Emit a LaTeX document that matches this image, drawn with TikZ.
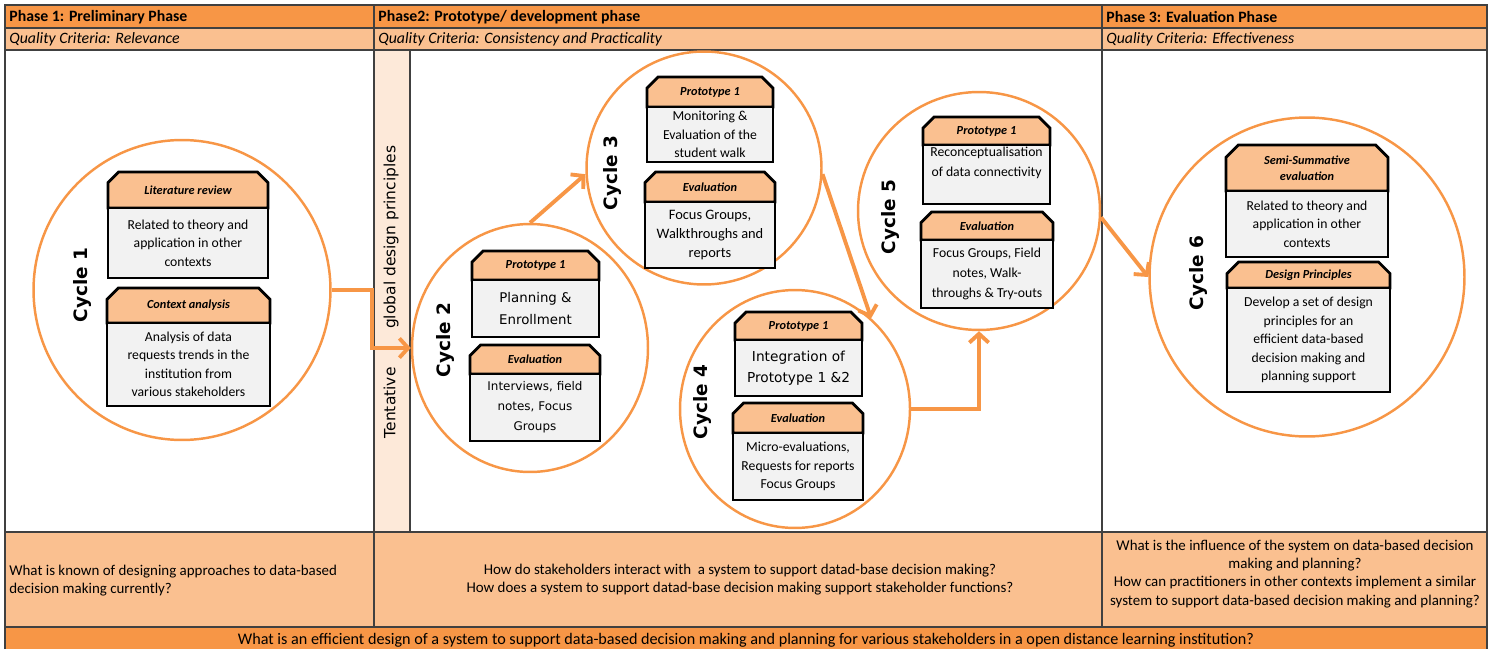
\documentclass[tikz,border=0pt]{standalone}
\usepackage{fontspec}
\setmainfont{Carlito}
\newfontfamily\tahoma{DejaVu Sans}
\usepackage{tikz}
\usetikzlibrary{positioning,arrows.meta,shapes.misc,shapes.geometric}
\definecolor{phaseorange}{RGB}{247,150,70}
\definecolor{lightorange}{RGB}{250,192,144}
\definecolor{stripfill}{RGB}{253,233,217}
\definecolor{gridline}{RGB}{64,64,64}
\definecolor{bodygray}{RGB}{242,242,242}

\tikzset{
  cyc/.style={ellipse, draw=phaseorange, line width=1.4pt, inner sep=0pt},
  cyclabel/.style={rotate=90, font=\tahoma\bfseries\fontsize{10.5}{12}\selectfont},
  boxhead/.style={chamfered rectangle, chamfered rectangle corners={north west,north east},
    chamfered rectangle xsep=3.5pt, chamfered rectangle ysep=3.5pt, draw=black, line width=1.6pt,
    fill=lightorange, inner sep=0pt, outer sep=0pt, anchor=north, align=center,
    font=\bfseries\itshape\fontsize{7}{9}\selectfont},
  boxbody/.style={draw=black, line width=1.6pt, fill=bodygray, inner sep=0pt, outer sep=0pt,
    align=center, font=\fontsize{7.8}{10.5}\selectfont},
  flow/.style={draw=phaseorange, line width=2.2pt, -{Straight Barb[length=5pt,width=11pt]}},
  hdrtext/.style={anchor=west, inner sep=0pt, font=\bfseries\fontsize{9}{10}\selectfont},
  crittext/.style={anchor=west, inner sep=0pt, font=\itshape\fontsize{9}{10}\selectfont},
  qtext/.style={inner sep=0pt, font=\fontsize{8.5}{10.3}\selectfont}
}

\begin{document}
\begin{tikzpicture}[x=0.02cm, y=-0.02cm]
\useasboundingbox (0,0) rectangle (1494,649);

% table background and grid
\fill[phaseorange] (5,5) rectangle (1487,28);
\fill[lightorange] (5,28) rectangle (1487,50);
\fill[stripfill] (374,50) rectangle (410,532);
\fill[lightorange] (5,532) rectangle (1487,627);
\fill[phaseorange] (5,627) rectangle (1487,649);
\draw[gridline, line width=0.9pt] (5,649) -- (5,5) -- (1487,5) -- (1487,649);
\foreach \yy in {28,50,532,627} \draw[gridline, line width=0.9pt] (5,\yy) -- (1487,\yy);
\foreach \xx in {374,1102} \draw[gridline, line width=0.9pt] (\xx,5) -- (\xx,627);
\draw[gridline, line width=0.9pt] (410,50) -- (410,532);

% phase headers
\node[hdrtext] (ph1) at (9,17) {Phase 1: Preliminary Phase};
\node[hdrtext] (ph2) at (378,17) {Phase2: Prototype/ development phase};
\node[hdrtext] (ph3) at (1106,17) {Phase 3: Evaluation Phase};
\node[crittext] (qc1) at (9,39.5) {Quality Criteria: Relevance};
\node[crittext] (qc2) at (378,39.5) {Quality Criteria: Consistency and Practicality};
\node[crittext] (qc3) at (1106,39.5) {Quality Criteria: Effectiveness};

\node[rotate=90, font=\tahoma\fontsize{8.8}{10}\selectfont] (strip) at (391,292)
  {Tentative\hspace{22pt}global design principles};

% research questions
\node[qtext, anchor=west, align=left] (rq1) at (9,581)
  {What is known of designing approaches to data-based\\decision making currently?};
\node[qtext, align=center] (rq2) at (740,580)
  {How do stakeholders interact with\ \ a system to support datad-base decision making?\\How does a system to support datad-base decision making support stakeholder functions?};
\node[qtext, align=center] (rq3) at (1295,574)
  {What is the influence of the system on data-based decision\\making and planning?\\How can practitioners in other contexts implement a similar\\system to support data-based decision making and planning?};
\node[qtext, font=\fontsize{9.2}{11}\selectfont] (mainq) at (746,640)
  {What is an efficient design of a system to support data-based decision making and planning for various stakeholders in a open distance learning institution?};

% cycles
\node[cyc, minimum width=5.94cm, minimum height=6cm] (c1) at (182,290) {};
\node[cyc, minimum width=4.72cm, minimum height=4.96cm] (c2) at (530,348) {};
\node[cyc, minimum width=4.7cm, minimum height=4.66cm] (c3) at (704,168) {};
\node[cyc, minimum width=4.6cm, minimum height=4.76cm] (c4) at (795,409) {};
\node[cyc, minimum width=4.84cm, minimum height=4.76cm] (c5) at (979,211) {};
\node[cyc, minimum width=6.3cm, minimum height=6.38cm] (c6) at (1307,277) {};

\node[cyclabel] (l1) at (82,285) {Cycle 1};
\node[cyclabel] (l2) at (445,340) {Cycle 2};
\node[cyclabel] (l3) at (612,173) {Cycle 3};
\node[cyclabel] (l4) at (702,402) {Cycle 4};
\node[cyclabel] (l5) at (890,217) {Cycle 5};
\node[cyclabel] (l6) at (1198,273) {Cycle 6};

% flow between cycles
\draw[flow] (c1.east) -- ++(40,0) |- (c2.west);
\draw[flow] (c2.north) -- (c3.183);
\draw[flow] (c3.357) -- (c4.50);
\draw[flow] (c4.east) -| (c5.south);
\draw[flow] (c5.357) -- (c6.west);

% cycle 1
\node[boxhead, minimum width=3.2cm, minimum height=0.72cm] (h1a) at (188,172) {Literature review};
\node[boxbody, below=0pt of h1a, minimum width=3.2cm, minimum height=1.4cm] (b1a)
  {Related to theory and\\application in other\\contexts};
\node[boxhead, minimum width=3.26cm, minimum height=0.7cm] (h1b) at (188.5,288) {Context analysis};
\node[boxbody, below=0pt of h1b, minimum width=3.26cm, minimum height=1.66cm] (b1b)
  {Analysis of data\\requests trends in the\\institution from\\various stakeholders};

% cycle 2
\node[boxhead, minimum width=2.54cm, minimum height=0.58cm] (h2a) at (535.5,251) {Prototype 1};
\node[boxbody, below=0pt of h2a, minimum width=2.54cm, minimum height=1.14cm,
  font=\tahoma\fontsize{7.6}{12.5}\selectfont] (b2a) {Planning \&\\Enrollment};
\node[boxhead, minimum width=2.6cm, minimum height=0.58cm] (h2b) at (535,345) {Evaluation};
\node[boxbody, below=0pt of h2b, minimum width=2.6cm, minimum height=1.34cm,
  font=\tahoma\fontsize{6.8}{11.3}\selectfont] (b2b) {Interviews, field\\notes, Focus\\Groups};

% cycle 3
\node[boxhead, minimum width=2.52cm, minimum height=0.6cm] (h3a) at (710,77) {Prototype 1};
\node[boxbody, below=0pt of h3a, minimum width=2.52cm, minimum height=1.1cm] (b3a)
  {Monitoring \&\\Evaluation of the\\student walk};
\node[boxhead, minimum width=2.6cm, minimum height=0.6cm] (h3b) at (710,172) {Evaluation};
\node[boxbody, below=0pt of h3b, minimum width=2.6cm, minimum height=1.32cm,
  font=\fontsize{8.2}{10.8}\selectfont] (b3b) {Focus Groups,\\Walkthroughs and\\reports};

% cycle 4
\node[boxhead, minimum width=2.54cm, minimum height=0.56cm] (h4a) at (798.5,312) {Prototype 1};
\node[boxbody, below=0pt of h4a, minimum width=2.54cm, minimum height=1.12cm,
  font=\tahoma\fontsize{7.8}{12}\selectfont] (b4a) {Integration of\\Prototype 1 \&2};
\node[boxhead, minimum width=2.6cm, minimum height=0.6cm] (h4b) at (798,403) {Evaluation};
\node[boxbody, below=0pt of h4b, minimum width=2.6cm, minimum height=1.34cm] (b4b)
  {Micro-evaluations,\\Requests for reports\\Focus Groups};

% cycle 5
\node[boxhead, minimum width=2.54cm, minimum height=0.56cm] (h5a) at (986.5,117) {Prototype 1};
\node[boxbody, below=0pt of h5a, minimum width=2.54cm, minimum height=1.18cm,
  font=\fontsize{7.8}{11.3}\selectfont] (b5a) {Reconceptualisation\\of data connectivity\\\strut};
\node[boxhead, minimum width=2.64cm, minimum height=0.56cm] (h5b) at (987,212) {Evaluation};
\node[boxbody, below=0pt of h5b, minimum width=2.64cm, minimum height=1.36cm,
  font=\fontsize{7.8}{11.3}\selectfont] (b5b) {Focus Groups, Field\\notes, Walk-\\throughs \& Try-outs};

% cycle 6
\node[boxhead, minimum width=3.24cm, minimum height=0.92cm] (h6a) at (1307,145) {Semi-Summative\\evaluation};
\node[boxbody, below=0pt of h6a, minimum width=3.24cm, minimum height=1.32cm] (b6a)
  {Related to theory and\\application in other\\contexts};
\node[boxhead, minimum width=3.26cm, minimum height=0.52cm] (h6b) at (1308.5,262) {Design Principles};
\node[boxbody, below=0pt of h6b, minimum width=3.26cm, minimum height=2.08cm] (b6b)
  {Develop a set of design\\principles for an\\efficient data-based\\decision making and\\planning support};
\end{tikzpicture}
\end{document}
